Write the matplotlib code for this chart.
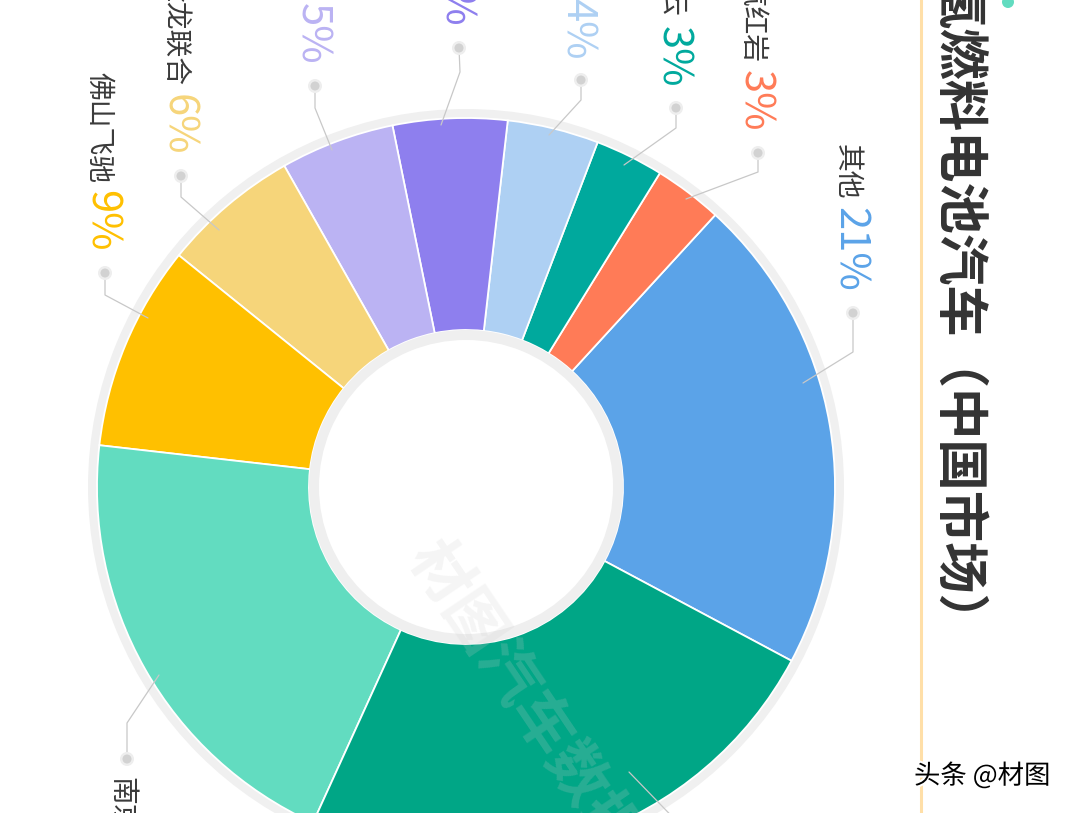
import matplotlib
matplotlib.use('Agg')
import matplotlib.pyplot as plt
from matplotlib.patches import Wedge, Circle
import matplotlib.patheffects as pe

plt.rcParams['font.family'] = ['Noto Sans CJK SC', 'DejaVu Sans']

# ---------------- data ----------------
title = '氢燃料电池汽车（中国市场）'
companies = ['其他', '上汽红岩', '东风青云', '上汽大通', '宇通客车',
             '中通客车', '金龙联合', '佛山飞驰', '南京金龙', '福田汽车']
shares = [21, 3, 3, 4, 5, 5, 6, 9, 20, 24]
colors = ['#5BA3E8', '#FF7B57', '#00A99D', '#AED0F3', '#8E7FEE',
          '#BBB3F3', '#F6D57A', '#FFC000', '#62DCC0', '#00A686']
footer = '头条 @材图'
watermark = '材图汽车数据'

# ---------------- layout (image pixel coords) ----------------
W, H = 1080, 813
def Y(y):
    return H - y

cx, cy = 466, Y(487)
R, r_in = 369, 157
start_angle = -28.1

label_dots = [(853, 313), (758, 153), (676, 108), (581, 80), (459, 48),
              (315, 86), (181, 176), (105, 273), (127, 759), (700, 860)]
label_elbows = [(853, 352), (758, 172), (676, 128), (581, 100), (460, 72),
                (315, 108), (181, 197), (105, 295), (127, 723), (690, 835)]
label_ends = [(803, 383), (686, 199), (624, 165), (549, 135), (441, 125),
              (332, 150), (219, 230), (148, 318), (159, 675), (629, 772)]

fig = plt.figure(figsize=(W / 100, H / 100), dpi=100)
ax = fig.add_axes([0, 0, 1, 1])

# outer grey ring
ax.add_patch(Wedge((cx, cy), R + 9, 0, 360, width=10, facecolor='#f0f0f0',
                   edgecolor='none', zorder=0))
ax.pie(shares, colors=colors, startangle=start_angle, counterclock=True,
       radius=R, center=(cx, cy),
       wedgeprops=dict(width=R - r_in, edgecolor='white', linewidth=1.3))
# inner grey ring
ax.add_patch(Wedge((cx, cy), r_in, 0, 360, width=10, facecolor='#efefef',
                   edgecolor='none', zorder=2))

ax.set_xlim(0, W)
ax.set_ylim(0, H)
ax.set_aspect('equal')
ax.axis('off')

renderer = fig.canvas.get_renderer()
inv = ax.transData.inverted()

for i, (name, v) in enumerate(zip(companies, shares)):
    dx, dy = label_dots[i]
    ex, ey = label_elbows[i]
    fx, fy = label_ends[i]
    ax.plot([dx, ex, fx], [Y(dy), Y(ey), Y(fy)], color='#c8c8c8', lw=0.9,
            zorder=3, solid_capstyle='round')
    ax.add_patch(Circle((dx, Y(dy)), 7, facecolor='#eeeeee', edgecolor='none', zorder=3))
    ax.add_patch(Circle((dx, Y(dy)), 4.5, facecolor='#d2d2d2', edgecolor='none', zorder=4))
    pct = f'{v}%'
    if dy < 487:
        t = ax.text(dx - 24, Y(dy - 21), pct, rotation=-90, ha='left', va='bottom',
                    fontsize=30, fontweight='normal', color=colors[i], zorder=5)
        bb = t.get_window_extent(renderer).transformed(inv)
        ax.text(dx - 21, bb.y1 + 8, name, rotation=-90, ha='left', va='bottom',
                fontsize=20, color='#3a3a3a', zorder=5)
    else:
        t = ax.text(dx - 21, Y(dy + 18), name, rotation=-90, ha='left', va='top',
                    fontsize=20, color='#3a3a3a', zorder=5)
        bb = t.get_window_extent(renderer).transformed(inv)
        ax.text(dx - 24, bb.y0 - 8, pct, rotation=-90, ha='left', va='top',
                fontsize=30, fontweight='normal', color=colors[i], zorder=5)

# watermark
ax.text(524, Y(699), watermark, rotation=-56, fontsize=44, fontweight='bold',
        color='#cccccc', alpha=0.2, ha='center', va='center',
        rotation_mode='anchor', zorder=6)

# title & decoration
ax.plot([921, 921], [0, H], color='#FFDFA8', lw=2.2, zorder=1)
ax.add_patch(Circle((1008, Y(2)), 6, facecolor='#62DCC0', edgecolor='none', zorder=5))
ax.text(931, Y(-22), title, rotation=-90, ha='left', va='top', fontsize=37,
        fontweight='bold', color='#333333', zorder=5)
ax.text(914, Y(776), footer, fontsize=19, color='black', ha='left', va='center',
        path_effects=[pe.withStroke(linewidth=3, foreground='white')], zorder=7)

fig.savefig('out.png', dpi=100)
